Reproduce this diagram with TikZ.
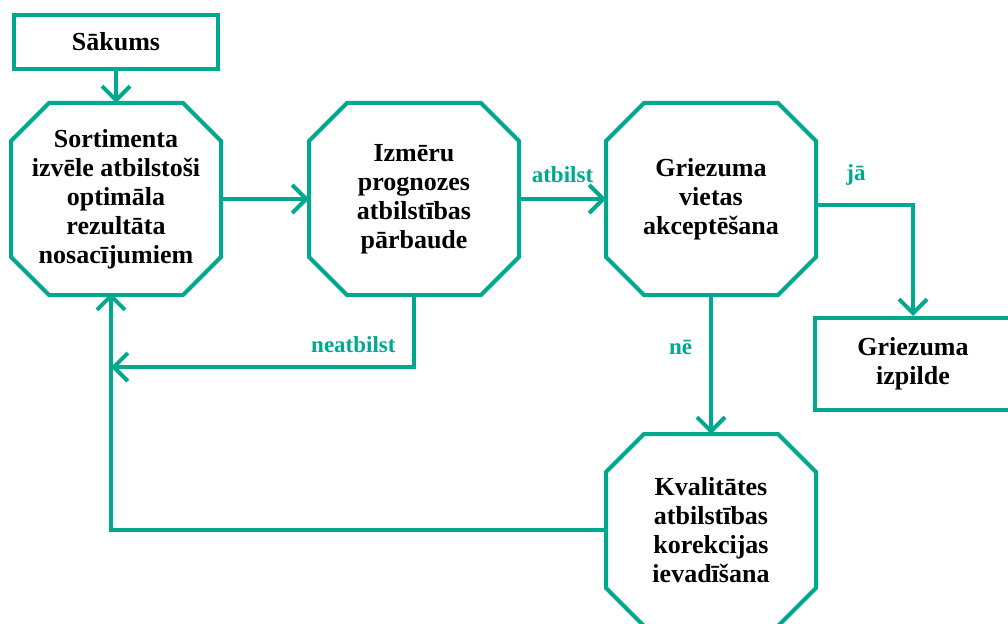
\documentclass[tikz,border=0pt]{standalone}
\usepackage{fontspec}
\setmainfont{Liberation Serif}
\usetikzlibrary{arrows.meta,calc}
\definecolor{tealc}{RGB}{0,168,142}
\begin{document}
\begin{tikzpicture}[x=1pt,y=-1pt,line width=4pt,
  txt/.style={font=\fontsize{26}{29}\selectfont\bfseries,align=center},
  oct/.style={txt,rectangle,minimum width=206pt,minimum height=188pt,inner sep=0pt},
  octline/.style={draw=tealc,line join=miter},
  box/.style={txt,rectangle,draw=tealc,inner sep=0pt,fill=white},
  conn/.style={draw=tealc,-{Straight Barb[length=14pt,width=28pt]}},
  lbl/.style={font=\fontsize{23}{27}\selectfont\bfseries,text=tealc,inner sep=0pt}]
\useasboundingbox (0,0) rectangle (1008,623);
\node[box,minimum width=204pt,minimum height=54pt] (s) at (116,42) {Sākums};
\node[oct] (o1) at (116,199) {Sortimenta\\izvēle atbilstoši\\optimāla\\rezultāta\\nosacījumiem};
\node[oct] (o2) at (414,199) {Izmēru\\prognozes\\atbilstības\\pārbaude};
\node[oct] (o3) at (711,199) {Griezuma\\vietas\\akceptēšana};
\node[oct] (o4) at (711,530) {Kvalitātes\\atbilstības\\korekcijas\\ievadīšana};
\node[box,minimum width=196pt,minimum height=92pt] (g) at (913,364) {Griezuma\\izpilde};
\foreach \n in {o1,o2,o3,o4}{
  \draw[octline] ($(\n.north west)+(38,0)$) -- ($(\n.north east)+(-38,0)$)
    -- ($(\n.north east)+(0,38)$) -- ($(\n.south east)+(0,-38)$)
    -- ($(\n.south east)+(-38,0)$) -- ($(\n.south west)+(38,0)$)
    -- ($(\n.south west)+(0,-38)$) -- ($(\n.north west)+(0,38)$) -- cycle;
}
\coordinate (c1) at (111,293);
\coordinate (c2) at (111,367);
\coordinate (c3) at (818,205);
\draw[conn] (s.south) -- (s.south |- o1.north);
\draw[conn] (o1.east) -- (o1.east -| o2.west);
\draw[conn] (o2.east) -- node[lbl,above=14pt] (la) {atbilst} (o2.east -| o3.west);
\draw[conn] (c3) -| node[lbl,pos=0.2,above=18pt] (lj) {jā} (g.north);
\draw[conn] (o3.south) -- node[lbl,pos=0.38,left=17pt] (ln) {nē} (o3.south |- o4.north);
\draw[conn] (o2.south) |- node[lbl,pos=0.6,above=12pt] (lna) {neatbilst} (c2);
\draw[conn] (o4.west) -| (c1);
\end{tikzpicture}
\end{document}
